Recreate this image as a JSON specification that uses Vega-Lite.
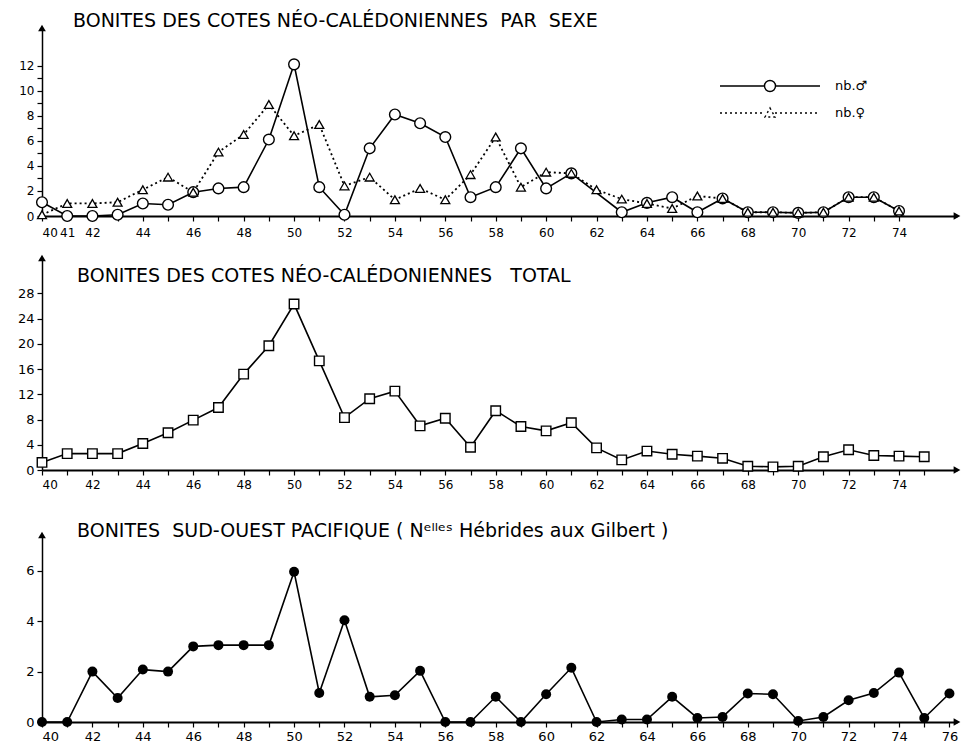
{
  "$schema": "https://vega.github.io/schema/vega-lite/v6.json",
  "background": "white",
  "padding": {"left": 5, "top": 12, "right": 0, "bottom": 0},
  "spacing": 10,
  "bounds": "full",
  "config": {
    "view": {"stroke": null},
    "axis": {
      "domainColor": "black", "tickColor": "black", "labelColor": "black",
      "labelFont": "DejaVu Sans", "labelFontSize": 12, "grid": false, "title": null,
      "tickSize": 5, "tickWidth": 1.2, "labelOverlap": false, "tickCount": 200, "format": "d"
    },
    "legend": {"labelFont": "DejaVu Sans", "labelFontSize": 13, "labelColor": "black", "padding": 0, "title": null},
    "title": {"font": "DejaVu Sans", "fontSize": 19, "fontWeight": "normal", "color": "black", "anchor": "start", "frame": "group", "baseline": "middle"}
  },
  "datasets": {
    "sexe": [
      {"year": 40, "sex": "nb.♂", "n": 1.1}, {"year": 41, "sex": "nb.♂", "n": 0}, {"year": 42, "sex": "nb.♂", "n": 0}, {"year": 43, "sex": "nb.♂", "n": 0.1},
      {"year": 44, "sex": "nb.♂", "n": 1.0}, {"year": 45, "sex": "nb.♂", "n": 0.9}, {"year": 46, "sex": "nb.♂", "n": 1.9}, {"year": 47, "sex": "nb.♂", "n": 2.2},
      {"year": 48, "sex": "nb.♂", "n": 2.3}, {"year": 49, "sex": "nb.♂", "n": 6.1}, {"year": 50, "sex": "nb.♂", "n": 12.1}, {"year": 51, "sex": "nb.♂", "n": 2.3},
      {"year": 52, "sex": "nb.♂", "n": 0.1}, {"year": 53, "sex": "nb.♂", "n": 5.4}, {"year": 54, "sex": "nb.♂", "n": 8.1}, {"year": 55, "sex": "nb.♂", "n": 7.4},
      {"year": 56, "sex": "nb.♂", "n": 6.3}, {"year": 57, "sex": "nb.♂", "n": 1.5}, {"year": 58, "sex": "nb.♂", "n": 2.3}, {"year": 59, "sex": "nb.♂", "n": 5.4},
      {"year": 60, "sex": "nb.♂", "n": 2.2}, {"year": 61, "sex": "nb.♂", "n": 3.4}, {"year": 63, "sex": "nb.♂", "n": 0.3}, {"year": 64, "sex": "nb.♂", "n": 1.05},
      {"year": 65, "sex": "nb.♂", "n": 1.5}, {"year": 66, "sex": "nb.♂", "n": 0.3}, {"year": 67, "sex": "nb.♂", "n": 1.4}, {"year": 68, "sex": "nb.♂", "n": 0.3},
      {"year": 69, "sex": "nb.♂", "n": 0.3}, {"year": 70, "sex": "nb.♂", "n": 0.25}, {"year": 71, "sex": "nb.♂", "n": 0.3}, {"year": 72, "sex": "nb.♂", "n": 1.5},
      {"year": 73, "sex": "nb.♂", "n": 1.5}, {"year": 74, "sex": "nb.♂", "n": 0.4},
      {"year": 40, "sex": "nb.♀", "n": 0.1}, {"year": 41, "sex": "nb.♀", "n": 1.0}, {"year": 42, "sex": "nb.♀", "n": 1.0}, {"year": 43, "sex": "nb.♀", "n": 1.1},
      {"year": 44, "sex": "nb.♀", "n": 2.1}, {"year": 45, "sex": "nb.♀", "n": 3.1}, {"year": 46, "sex": "nb.♀", "n": 1.9}, {"year": 47, "sex": "nb.♀", "n": 5.1},
      {"year": 48, "sex": "nb.♀", "n": 6.5}, {"year": 49, "sex": "nb.♀", "n": 8.9}, {"year": 50, "sex": "nb.♀", "n": 6.4}, {"year": 51, "sex": "nb.♀", "n": 7.3},
      {"year": 52, "sex": "nb.♀", "n": 2.4}, {"year": 53, "sex": "nb.♀", "n": 3.1}, {"year": 54, "sex": "nb.♀", "n": 1.3}, {"year": 55, "sex": "nb.♀", "n": 2.2},
      {"year": 56, "sex": "nb.♀", "n": 1.3}, {"year": 57, "sex": "nb.♀", "n": 3.3}, {"year": 58, "sex": "nb.♀", "n": 6.3}, {"year": 59, "sex": "nb.♀", "n": 2.3},
      {"year": 60, "sex": "nb.♀", "n": 3.5}, {"year": 61, "sex": "nb.♀", "n": 3.4}, {"year": 62, "sex": "nb.♀", "n": 2.1}, {"year": 63, "sex": "nb.♀", "n": 1.35},
      {"year": 64, "sex": "nb.♀", "n": 1.0}, {"year": 65, "sex": "nb.♀", "n": 0.6}, {"year": 66, "sex": "nb.♀", "n": 1.6}, {"year": 67, "sex": "nb.♀", "n": 1.4},
      {"year": 68, "sex": "nb.♀", "n": 0.3}, {"year": 69, "sex": "nb.♀", "n": 0.3}, {"year": 70, "sex": "nb.♀", "n": 0.25}, {"year": 71, "sex": "nb.♀", "n": 0.3},
      {"year": 72, "sex": "nb.♀", "n": 1.5}, {"year": 73, "sex": "nb.♀", "n": 1.5}, {"year": 74, "sex": "nb.♀", "n": 0.4}
    ],
    "total": [
      {"year": 40, "n": 1.2}, {"year": 41, "n": 2.6}, {"year": 42, "n": 2.6}, {"year": 43, "n": 2.6}, {"year": 44, "n": 4.2}, {"year": 45, "n": 5.9},
      {"year": 46, "n": 7.9}, {"year": 47, "n": 9.9}, {"year": 48, "n": 15.2}, {"year": 49, "n": 19.7}, {"year": 50, "n": 26.3}, {"year": 51, "n": 17.3},
      {"year": 52, "n": 8.3}, {"year": 53, "n": 11.3}, {"year": 54, "n": 12.5}, {"year": 55, "n": 7.0}, {"year": 56, "n": 8.2}, {"year": 57, "n": 3.6},
      {"year": 58, "n": 9.4}, {"year": 59, "n": 6.9}, {"year": 60, "n": 6.2}, {"year": 61, "n": 7.5}, {"year": 62, "n": 3.5}, {"year": 63, "n": 1.6},
      {"year": 64, "n": 3.0}, {"year": 65, "n": 2.5}, {"year": 66, "n": 2.2}, {"year": 67, "n": 1.85}, {"year": 68, "n": 0.6}, {"year": 69, "n": 0.5},
      {"year": 70, "n": 0.6}, {"year": 71, "n": 2.1}, {"year": 72, "n": 3.2}, {"year": 73, "n": 2.3}, {"year": 74, "n": 2.2}, {"year": 75, "n": 2.1}
    ],
    "sop": [
      {"year": 40, "n": 0}, {"year": 41, "n": 0}, {"year": 42, "n": 2.0}, {"year": 43, "n": 0.95}, {"year": 44, "n": 2.08}, {"year": 45, "n": 2.0},
      {"year": 46, "n": 3.0}, {"year": 47, "n": 3.05}, {"year": 48, "n": 3.05}, {"year": 49, "n": 3.05}, {"year": 50, "n": 5.96}, {"year": 51, "n": 1.15},
      {"year": 52, "n": 4.04}, {"year": 53, "n": 1.0}, {"year": 54, "n": 1.06}, {"year": 55, "n": 2.03}, {"year": 56, "n": 0}, {"year": 57, "n": 0},
      {"year": 58, "n": 1.0}, {"year": 59, "n": 0}, {"year": 60, "n": 1.1}, {"year": 61, "n": 2.15}, {"year": 62, "n": 0}, {"year": 63, "n": 0.1},
      {"year": 64, "n": 0.1}, {"year": 65, "n": 1.0}, {"year": 66, "n": 0.16}, {"year": 67, "n": 0.2}, {"year": 68, "n": 1.13}, {"year": 69, "n": 1.1},
      {"year": 70, "n": 0.04}, {"year": 71, "n": 0.2}, {"year": 72, "n": 0.86}, {"year": 73, "n": 1.15}, {"year": 74, "n": 1.96}, {"year": 75, "n": 0.16},
      {"year": 76, "n": 1.13}
    ]
  },
  "vconcat": [
    {
      "width": 915, "height": 188,
      "title": {"text": "BONITES DES COTES NÉO-CALÉDONIENNES\u00a0 PAR\u00a0 SEXE", "offset": -6.5, "dx": 31},
      "layer": [
        {
          "data": {"name": "sexe"},
          "transform": [{"filter": "datum.sex === 'nb.♂'"}],
          "mark": {"type": "line", "color": "black", "strokeWidth": 1.6},
          "encoding": {
            "x": {"field": "year", "type": "quantitative", "scale": {"domain": [40, 76.3], "nice": false, "zero": false},
              "axis": {"values": [40,41,42,43,44,45,46,47,48,49,50,51,52,53,54,55,56,57,58,59,60,61,62,63,64,65,66,67,68,69,70,71,72,73,74],
                "labelExpr": "datum.value <= 42 || datum.value % 2 === 0 ? datum.label : ''", "format": "d", "labelOverlap": false, "tickCount": 200, "domainWidth": 2, "labelPadding": 6, "minExtent": 28}},
            "y": {"field": "n", "type": "quantitative", "scale": {"domain": [0, 15], "nice": false},
              "axis": {"values": [0,1,2,3,4,5,6,7,8,9,10,11,12], "labelExpr": "datum.value % 2 === 0 ? datum.label : ''", "format": "d", "labelOverlap": false, "tickCount": 200, "domainWidth": 1.5, "minExtent": 37, "labelPadding": 3}},
            "opacity": {"field": "sex", "type": "nominal",
              "scale": {"domain": ["nb.♂"], "range": [1]},
              "legend": {
                "orient": "none", "legendX": 717, "legendY": 47,
                "symbolSize": 400, "labelOffset": 54,
                "symbolType": "M-5,0H-0.55M0.55,0H5M-0.55,0A0.55,0.55 0 1,0 0.55,0A0.55,0.55 0 1,0 -0.55,0",
                "symbolFillColor": "white", "symbolStrokeColor": "black", "symbolStrokeWidth": 1.4
              }}
          }
        },
        {
          "data": {"name": "sexe"},
          "transform": [{"filter": "datum.sex === 'nb.♀'"}],
          "mark": {"type": "line", "strokeWidth": 1.8, "strokeDash": [2, 3]},
          "encoding": {
            "x": {"field": "year", "type": "quantitative"},
            "y": {"field": "n", "type": "quantitative"},
            "color": {"field": "sex", "type": "nominal",
              "scale": {"domain": ["nb.♀"], "range": ["black"]},
              "legend": {
                "orient": "none", "legendX": 717, "legendY": 74,
                "symbolSize": 400, "labelOffset": 54,
                "symbolType": "M-5,0H-0.5M0.5,0H5M0,-0.5L0.5,0.4L-0.5,0.4Z",
                "symbolDash": [2, 3], "symbolStrokeWidth": 1.4,
                "symbolFillColor": "white"
              }}
          }
        },
        {
          "data": {"name": "sexe"},
          "transform": [{"filter": "datum.sex === 'nb.♂'"}],
          "mark": {"type": "point", "shape": "circle", "filled": true, "fill": "white", "stroke": "black", "strokeWidth": 1.4, "size": 115, "opacity": 1},
          "encoding": {"x": {"field": "year", "type": "quantitative"}, "y": {"field": "n", "type": "quantitative"}}
        },
        {
          "data": {"name": "sexe"},
          "transform": [{"filter": "datum.sex === 'nb.♀'"}],
          "mark": {"type": "point", "shape": "triangle-up", "filled": true, "fill": "white", "stroke": "black", "strokeWidth": 1.3, "size": 80, "opacity": 1},
          "encoding": {"x": {"field": "year", "type": "quantitative"}, "y": {"field": "n", "type": "quantitative"}}
        },
        {
          "data": {"values": [{}]},
          "mark": {"type": "point", "shape": "triangle-up", "filled": true, "color": "black", "size": 60, "opacity": 1},
          "encoding": {"x": {"datum": 40}, "y": {"datum": 15}}
        },
        {
          "data": {"values": [{}]},
          "mark": {"type": "point", "shape": "triangle-right", "filled": true, "color": "black", "size": 60, "opacity": 1},
          "encoding": {"x": {"datum": 76.3}, "y": {"datum": 0}}
        }
      ]
    },
    {
      "width": 915, "height": 212,
      "title": {"text": "BONITES DES COTES NÉO-CALÉDONIENNES\u00a0 \u00a0TOTAL", "offset": -31.5, "dx": 35},
      "layer": [
        {
          "data": {"name": "total"},
          "mark": {"type": "line", "color": "black", "strokeWidth": 1.6},
          "encoding": {
            "x": {"field": "year", "type": "quantitative", "scale": {"domain": [40, 76.3], "nice": false, "zero": false},
              "axis": {"values": [40,41,42,43,44,45,46,47,48,49,50,51,52,53,54,55,56,57,58,59,60,61,62,63,64,65,66,67,68,69,70,71,72,73,74,75],
                "labelExpr": "datum.value % 2 === 0 ? datum.label : ''", "format": "d", "labelOverlap": false, "tickCount": 200, "domainWidth": 2, "labelPadding": 4, "minExtent": 42}},
            "y": {"field": "n", "type": "quantitative", "scale": {"domain": [0, 33.6], "nice": false},
              "axis": {"values": [0,4,8,12,16,20,24,28], "format": "d", "labelOverlap": false, "tickCount": 200, "domainWidth": 1.5, "minExtent": 37, "labelPadding": 3, "labelFontSize": 13}}
          }
        },
        {
          "data": {"name": "total"},
          "mark": {"type": "point", "shape": "square", "filled": true, "fill": "white", "stroke": "black", "strokeWidth": 1.4, "size": 90, "opacity": 1},
          "encoding": {"x": {"field": "year", "type": "quantitative"}, "y": {"field": "n", "type": "quantitative"}}
        },
        {
          "data": {"values": [{}]},
          "mark": {"type": "point", "shape": "triangle-up", "filled": true, "color": "black", "size": 60, "opacity": 1},
          "encoding": {"x": {"datum": 40}, "y": {"datum": 33.6}}
        },
        {
          "data": {"values": [{}]},
          "mark": {"type": "point", "shape": "triangle-right", "filled": true, "color": "black", "size": 60, "opacity": 1},
          "encoding": {"x": {"datum": 76.3}, "y": {"datum": 0}}
        }
      ]
    },
    {
      "width": 915, "height": 187,
      "title": {"text": "BONITES\u00a0 SUD-OUEST PACIFIQUE ( Nᵉˡˡᵉˢ Hébrides aux Gilbert )", "offset": -9.5, "dx": 35},
      "layer": [
        {
          "data": {"name": "sop"},
          "mark": {"type": "line", "color": "black", "strokeWidth": 1.6},
          "encoding": {
            "x": {"field": "year", "type": "quantitative", "scale": {"domain": [40, 76.3], "nice": false, "zero": false},
              "axis": {"values": [40,41,42,43,44,45,46,47,48,49,50,51,52,53,54,55,56,57,58,59,60,61,62,63,64,65,66,67,68,69,70,71,72,73,74,75,76],
                "labelExpr": "datum.value % 2 === 0 ? datum.label : ''", "format": "d", "labelOverlap": false, "tickCount": 200, "domainWidth": 2, "labelPadding": 3, "labelFontSize": 13}},
            "y": {"field": "n", "type": "quantitative", "scale": {"domain": [0, 7.42], "nice": false},
              "axis": {"values": [0, 2, 4, 6], "format": "d", "labelOverlap": false, "tickCount": 200, "domainWidth": 1.5, "minExtent": 37, "labelPadding": 3, "labelFontSize": 13}}
          }
        },
        {
          "data": {"name": "sop"},
          "mark": {"type": "point", "shape": "circle", "filled": true, "color": "black", "size": 100, "opacity": 1},
          "encoding": {"x": {"field": "year", "type": "quantitative"}, "y": {"field": "n", "type": "quantitative"}}
        },
        {
          "data": {"values": [{}]},
          "mark": {"type": "point", "shape": "triangle-up", "filled": true, "color": "black", "size": 60, "opacity": 1},
          "encoding": {"x": {"datum": 40}, "y": {"datum": 7.42}}
        },
        {
          "data": {"values": [{}]},
          "mark": {"type": "point", "shape": "triangle-right", "filled": true, "color": "black", "size": 60, "opacity": 1},
          "encoding": {"x": {"datum": 76.3}, "y": {"datum": 0}}
        }
      ]
    }
  ]
}
